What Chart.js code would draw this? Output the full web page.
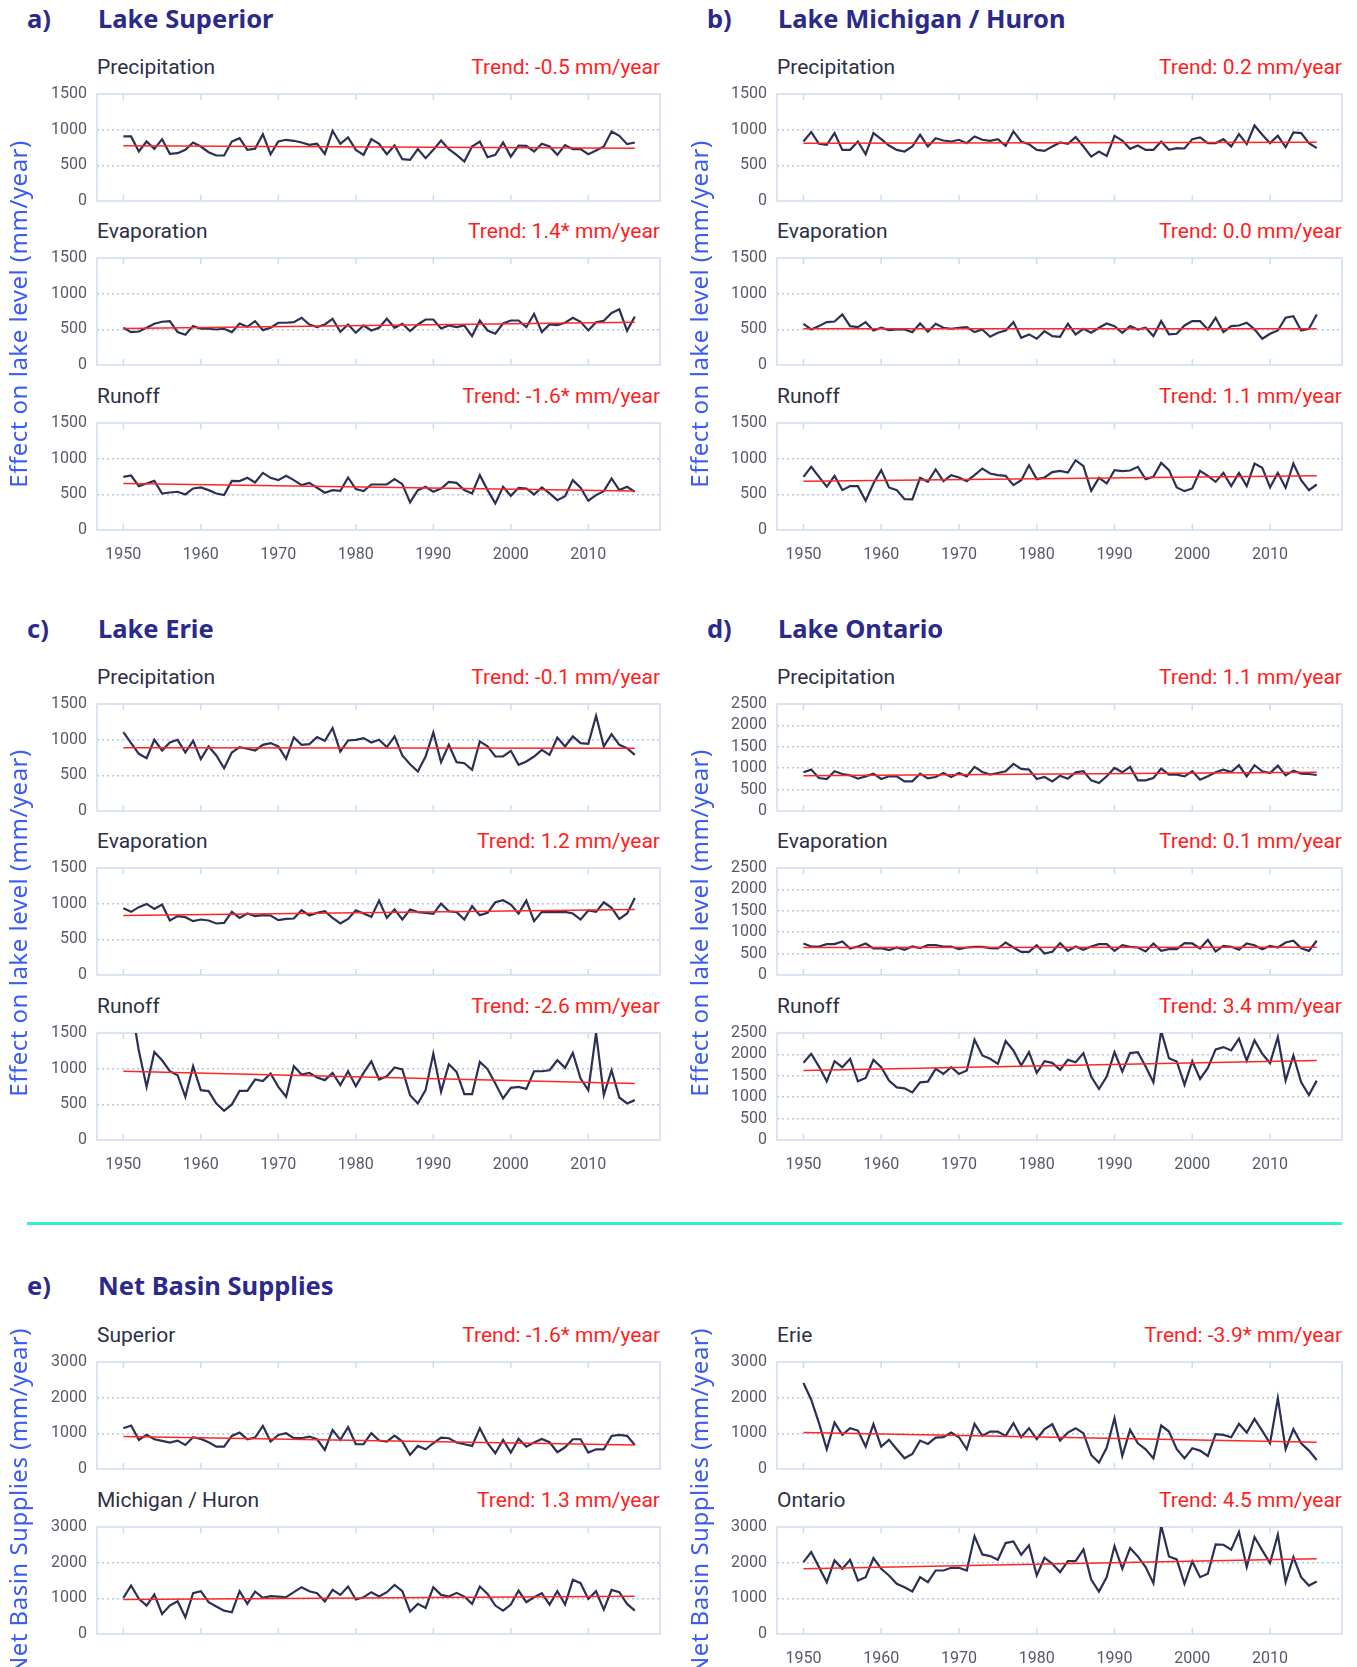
<!DOCTYPE html>
<html>
<head>
<meta charset="utf-8">
<title>Great Lakes water balance components</title>
<script src="https://cdn.jsdelivr.net/npm/chart.js@4.4.0/dist/chart.umd.min.js"></script>
<style>
    body { margin: 0; background: #fff; }
    #page { position: relative; width: 1357px; height: 1667px; overflow: hidden; background: #fff; }
    .title { position: absolute; font-family: "Noto Sans", sans-serif; font-weight: 700; font-size: 25.5px; color: #2b2a8a; line-height: 1; white-space: nowrap; transform: translateY(-50%); }
    .sub { position: absolute; font-family: Roboto, sans-serif; font-size: 21px; color: #2c3046; line-height: 1; white-space: nowrap; transform: translateY(-50%); }
    .trend { position: absolute; font-family: Roboto, sans-serif; font-size: 21px; color: #ff1e1e; line-height: 1; white-space: nowrap; transform: translate(-100%, -50%); }
    .ytitle { position: absolute; width: 420px; height: 26px; font-family: "Noto Sans", sans-serif; font-size: 24px; letter-spacing: 0.5px; color: #3b5cf2; line-height: 26px; white-space: nowrap; transform: rotate(-90deg); }
    .sep { position: absolute; left: 27px; top: 1222px; width: 1315px; height: 3px; background: #33efcf; }
    .panel { position: absolute; }
</style>
</head>
<body>
<div id="page"></div>
<script>
/* ================================
   Data
================================ */
const years = [1950, 1951, 1952, 1953, 1954, 1955, 1956, 1957, 1958, 1959,
    1960, 1961, 1962, 1963, 1964, 1965, 1966, 1967, 1968, 1969,
    1970, 1971, 1972, 1973, 1974, 1975, 1976, 1977, 1978, 1979,
    1980, 1981, 1982, 1983, 1984, 1985, 1986, 1987, 1988, 1989,
    1990, 1991, 1992, 1993, 1994, 1995, 1996, 1997, 1998, 1999,
    2000, 2001, 2002, 2003, 2004, 2005, 2006, 2007, 2008, 2009,
    2010, 2011, 2012, 2013, 2014, 2015, 2016];
const decadeTicks = [1950, 1960, 1970, 1980, 1990, 2000, 2010];
const trendYears = [1950, 2016];

// Lake Superior
const supPrecip = [905, 905, 694, 834, 731, 867, 661, 670, 717, 820, 764, 684, 638, 638, 834, 881, 717, 731, 937, 656, 834, 858, 844, 820, 787, 802, 661, 984, 802, 891, 717, 647, 867, 802, 656, 778, 586, 577, 727, 600, 717, 848, 727, 647, 553, 764, 834, 614, 647, 820, 623, 778, 773, 694, 802, 764, 647, 783, 727, 727, 656, 708, 764, 975, 914, 797, 820];
const supEvap = [522, 461, 470, 522, 578, 606, 615, 461, 424, 545, 508, 508, 498, 508, 461, 582, 536, 615, 489, 522, 592, 592, 601, 662, 568, 531, 568, 648, 466, 568, 452, 554, 484, 522, 648, 522, 578, 475, 568, 638, 638, 512, 554, 531, 554, 405, 624, 484, 438, 582, 624, 624, 531, 717, 461, 568, 559, 592, 662, 606, 484, 600, 620, 730, 780, 480, 680];
const supRunoff = [745, 764, 615, 652, 689, 512, 526, 536, 498, 582, 596, 559, 512, 489, 689, 685, 731, 666, 801, 731, 699, 759, 699, 629, 661, 592, 522, 559, 550, 736, 573, 545, 638, 638, 638, 713, 643, 387, 559, 606, 536, 582, 675, 661, 559, 512, 769, 559, 373, 606, 480, 592, 582, 498, 596, 512, 419, 475, 699, 592, 410, 489, 545, 722, 559, 606, 536];

// Lake Michigan / Huron
const mhPrecip = [834, 966, 802, 787, 952, 717, 717, 834, 656, 952, 867, 778, 717, 694, 764, 928, 764, 881, 848, 834, 858, 811, 905, 858, 844, 867, 773, 975, 834, 797, 717, 703, 764, 820, 802, 895, 764, 623, 694, 633, 914, 848, 731, 778, 717, 717, 834, 717, 741, 736, 867, 891, 811, 811, 867, 764, 937, 797, 1059, 928, 811, 914, 755, 961, 952, 811, 741];
const mhEvap = [578, 498, 545, 601, 610, 708, 545, 531, 601, 484, 522, 489, 498, 498, 461, 582, 466, 578, 522, 508, 522, 531, 461, 498, 396, 452, 484, 601, 382, 429, 368, 475, 405, 396, 578, 429, 508, 452, 522, 582, 545, 452, 545, 498, 522, 405, 615, 429, 438, 554, 615, 615, 498, 662, 461, 545, 554, 592, 500, 368, 438, 484, 662, 685, 484, 508, 708];
const mhRunoff = [745, 885, 745, 606, 759, 559, 615, 615, 410, 652, 839, 596, 559, 433, 429, 731, 675, 848, 685, 769, 736, 685, 769, 862, 792, 769, 759, 629, 699, 908, 713, 736, 811, 829, 806, 978, 894, 550, 731, 652, 839, 825, 834, 885, 713, 745, 941, 839, 596, 545, 582, 829, 759, 675, 801, 615, 801, 615, 932, 871, 596, 801, 592, 932, 699, 559, 638];

// Lake Erie
const eriePrecip = [1106, 952, 802, 741, 998, 848, 961, 998, 820, 984, 727, 905, 778, 600, 820, 895, 872, 848, 928, 952, 905, 731, 1031, 928, 937, 1036, 984, 1163, 834, 989, 998, 1022, 961, 998, 895, 1045, 778, 656, 553, 764, 1102, 684, 928, 684, 670, 577, 975, 905, 764, 764, 844, 647, 694, 764, 858, 787, 1031, 905, 1045, 952, 942, 1336, 905, 1078, 928, 881, 787];
const erieEvap = [936, 885, 951, 997, 927, 988, 764, 825, 811, 755, 778, 764, 722, 731, 885, 801, 862, 825, 839, 834, 769, 787, 792, 908, 834, 871, 894, 801, 722, 787, 908, 862, 815, 1043, 801, 918, 778, 918, 881, 871, 857, 1001, 894, 881, 778, 965, 839, 871, 1020, 1048, 988, 862, 1043, 755, 885, 881, 881, 885, 862, 778, 904, 885, 1020, 941, 787, 862, 1081];
const erieRunoff = [2100, 1900, 1250, 745, 1234, 1118, 964, 908, 606, 1034, 699, 685, 512, 410, 498, 689, 689, 848, 825, 932, 745, 606, 1034, 918, 941, 876, 839, 941, 769, 964, 755, 941, 1104, 848, 894, 1016, 988, 629, 512, 699, 1211, 675, 1062, 955, 643, 643, 1095, 992, 792, 582, 731, 745, 717, 964, 964, 978, 1118, 1011, 1220, 862, 699, 1500, 629, 978, 596, 512, 559];

// Lake Ontario
const ontPrecip = [904, 967, 770, 747, 928, 865, 833, 755, 810, 873, 747, 810, 810, 692, 692, 873, 763, 794, 888, 794, 888, 810, 1030, 912, 849, 888, 928, 1101, 983, 967, 747, 794, 692, 826, 755, 904, 928, 715, 653, 810, 1006, 904, 1030, 715, 715, 770, 991, 849, 849, 810, 928, 731, 810, 904, 967, 912, 1069, 810, 1069, 928, 888, 1061, 833, 943, 873, 865, 841];
const ontEvap = [737, 666, 666, 721, 721, 784, 619, 666, 737, 619, 627, 580, 643, 588, 666, 627, 697, 697, 666, 666, 603, 643, 658, 658, 627, 619, 760, 643, 541, 541, 697, 502, 541, 745, 564, 666, 588, 666, 721, 721, 564, 697, 658, 643, 549, 737, 564, 603, 603, 745, 737, 619, 823, 549, 682, 658, 588, 737, 697, 603, 682, 643, 760, 800, 627, 564, 800];
const ontRunoff = [1803, 2014, 1716, 1371, 1842, 1701, 1897, 1371, 1450, 1873, 1701, 1387, 1230, 1207, 1113, 1348, 1364, 1661, 1544, 1701, 1544, 1622, 2343, 1975, 1897, 1779, 2312, 2092, 1740, 2053, 1567, 1842, 1803, 1638, 1873, 1818, 2030, 1481, 1191, 1481, 2053, 1599, 2030, 2053, 1716, 1348, 2547, 1912, 1834, 1293, 1842, 1426, 1685, 2116, 2171, 2092, 2367, 1857, 2327, 2014, 1795, 2406, 1387, 1975, 1348, 1050, 1387];

// Net basin supplies
const nbsSup = [1144, 1219, 816, 956, 834, 788, 741, 797, 675, 891, 844, 750, 628, 628, 928, 1022, 834, 881, 1209, 769, 956, 1003, 863, 863, 909, 834, 534, 1097, 816, 1172, 694, 694, 1003, 797, 769, 938, 769, 394, 647, 553, 722, 881, 863, 741, 694, 647, 1144, 722, 441, 816, 459, 844, 628, 741, 844, 750, 469, 609, 834, 834, 459, 553, 553, 928, 956, 928, 675];
const nbsMH = [1013, 1359, 984, 797, 1106, 563, 797, 919, 469, 1144, 1200, 891, 769, 656, 609, 1200, 844, 1191, 1013, 1059, 1050, 1031, 1172, 1313, 1200, 1144, 909, 1238, 1097, 1331, 966, 1031, 1172, 1050, 1172, 1378, 1200, 628, 844, 731, 1313, 1097, 1050, 1153, 1050, 844, 1331, 1125, 797, 656, 825, 1219, 891, 1031, 1144, 825, 1200, 825, 1519, 1425, 984, 1200, 684, 1238, 1172, 844, 656];
const nbsErie = [2409, 1941, 1284, 553, 1303, 956, 1144, 1078, 628, 1256, 628, 816, 553, 300, 422, 797, 703, 881, 891, 1022, 891, 553, 1266, 928, 1050, 1050, 928, 1284, 891, 1144, 834, 1116, 1256, 797, 1022, 1144, 1003, 394, 178, 600, 1425, 366, 1097, 722, 553, 300, 1219, 1050, 553, 300, 581, 516, 366, 975, 956, 891, 1266, 1022, 1406, 1069, 722, 1988, 553, 1116, 722, 516, 253];
const nbsOnt = [2016, 2297, 1875, 1453, 2063, 1828, 2081, 1500, 1594, 2128, 1828, 1641, 1406, 1313, 1191, 1594, 1453, 1781, 1781, 1856, 1856, 1781, 2738, 2231, 2184, 2081, 2550, 2597, 2222, 2484, 1641, 2138, 1969, 1734, 2044, 2044, 2372, 1528, 1191, 1594, 2466, 1828, 2409, 2175, 1875, 1425, 3040, 2175, 2091, 1406, 2034, 1594, 1688, 2513, 2503, 2363, 2859, 1875, 2719, 2344, 1988, 2784, 1453, 2156, 1594, 1359, 1472];

// trend line end values (1950, 2016)
const supPrecipTrend = [773, 741];
const supEvapTrend = [512, 601];
const supRunoffTrend = [652, 545];
const mhPrecipTrend = [811, 825];
const mhEvapTrend = [508, 508];
const mhRunoffTrend = [685, 759];
const eriePrecipTrend = [886, 880];
const erieEvapTrend = [834, 918];
const erieRunoffTrend = [964, 792];
const ontPrecipTrend = [826, 904];
const ontEvapTrend = [640, 650];
const ontRunoffTrend = [1622, 1857];
const nbsSupTrend = [909, 675];
const nbsMHTrend = [966, 1059];
const nbsErieTrend = [1022, 750];
const nbsOntTrend = [1828, 2109];

/* ================================
   Page layout
================================ */
const page = document.getElementById("page");
const BOX_H = 107;
const colLeft = { box: 97, width: 563, letter: 27, axisX: 18 };
const colRight = { box: 777, width: 565, letter: 707, axisX: 699 };

function addText(cls, text, left, top) {
    const el = document.createElement("div");
    el.className = cls;
    el.textContent = text;
    el.style.left = left + "px";
    el.style.top = top + "px";
    page.appendChild(el);
    return el;
}

function addAxisTitle(text, cx, cy, align) {
    const el = addText("ytitle", text, cx - 210, cy - 13);
    el.style.textAlign = align || "center";
}

/* ================================
   Chart.js panel
================================ */
const framePlugin = {
    id: "frame",
    beforeDatasetsDraw(chart) {
        const { ctx, chartArea: a, scales: { x } } = chart;
        ctx.save();
        ctx.strokeStyle = "#cfdcee";
        ctx.lineWidth = 1.5;
        ctx.strokeRect(a.left, a.top, a.width, a.height);
        x.ticks.forEach(t => {
            const px = x.getPixelForValue(t.value);
            ctx.beginPath();
            ctx.moveTo(px, a.top);
            ctx.lineTo(px, a.top + 6);
            ctx.moveTo(px, a.bottom - 6);
            ctx.lineTo(px, a.bottom);
            ctx.stroke();
        });
        ctx.restore();
    }
};

// keep the plot box exactly where the page layout wants it
function noLabelPadding(scale) {
    scale.paddingTop = 0;
    scale.paddingBottom = 0;
    scale.paddingLeft = 0;
    scale.paddingRight = 0;
}

function makePanel(col, top, name, trendText, values, trend, yMax, yStep, showX) {
    addText("sub", name, col.box, top - 27);
    addText("trend", trendText, col.box + col.width, top - 27);

    const padL = 80, padT = 10, padR = 12;
    const xH = showX ? 38 : 10;
    const w = col.width + padL + padR;
    const h = BOX_H + padT + xH;

    const wrap = document.createElement("div");
    wrap.className = "panel";
    wrap.style.left = (col.box - padL) + "px";
    wrap.style.top = (top - padT) + "px";
    const canvas = document.createElement("canvas");
    canvas.width = w;
    canvas.height = h;
    canvas.style.width = w + "px";
    canvas.style.height = h + "px";
    wrap.appendChild(canvas);
    page.appendChild(wrap);

    new Chart(canvas, {
        type: "line",
        data: {
            datasets: [{
                data: trendYears.map((yr, i) => ({ x: yr, y: trend[i] })),
                borderColor: "#ff2626",
                borderWidth: 1.5,
                pointRadius: 0
            }, {
                data: years.map((yr, i) => ({ x: yr, y: values[i] })),
                borderColor: "#2a3152",
                borderWidth: 2.2,
                pointRadius: 0,
                tension: 0
            }]
        },
        options: {
            responsive: false,
            animation: false,
            events: [],
            layout: { autoPadding: false, padding: { top: padT, right: padR, left: 0, bottom: 0 } },
            plugins: { legend: { display: false }, tooltip: { enabled: false } },
            scales: {
                x: {
                    type: "linear",
                    min: 1946.6,
                    max: 2019.25,
                    afterBuildTicks: scale => { scale.ticks = decadeTicks.map(v => ({ value: v })); },
                    afterFit: scale => { scale.height = xH; noLabelPadding(scale); },
                    grid: { display: false },
                    border: { display: false },
                    ticks: {
                        display: showX,
                        autoSkip: false,
                        color: "#555a66",
                        font: { family: "Roboto", size: 16 },
                        padding: 7,
                        maxRotation: 0,
                        callback: v => String(v)
                    }
                },
                y: {
                    min: 0,
                    max: yMax,
                    afterFit: scale => { scale.width = padL; noLabelPadding(scale); },
                    grid: {
                        drawTicks: false,
                        lineWidth: 1.5,
                        color: c => (c.tick.value === 0 || c.tick.value === yMax) ? "rgba(0,0,0,0)" : "#b8c9de"
                    },
                    border: { display: false, dash: [2, 3] },
                    ticks: {
                        stepSize: yStep,
                        autoSkip: false,
                        color: "#555a66",
                        font: { family: "Roboto", size: 16 },
                        padding: 10,
                        callback: v => String(v)
                    }
                }
            }
        },
        plugins: [framePlugin]
    });
}

/* ================================
   Build the figure
================================ */
function initFigure() {
    // a) Lake Superior
    addText("title", "a)", colLeft.letter, 19);
    addText("title", "Lake Superior", colLeft.box + 1, 19);
    makePanel(colLeft, 94, "Precipitation", "Trend: -0.5 mm/year", supPrecip, supPrecipTrend, 1500, 500, false);
    makePanel(colLeft, 258, "Evaporation", "Trend: 1.4* mm/year", supEvap, supEvapTrend, 1500, 500, false);
    makePanel(colLeft, 423, "Runoff", "Trend: -1.6* mm/year", supRunoff, supRunoffTrend, 1500, 500, true);
    addAxisTitle("Effect on lake level (mm/year)", colLeft.axisX, 314);

    // b) Lake Michigan / Huron
    addText("title", "b)", colRight.letter, 19);
    addText("title", "Lake Michigan / Huron", colRight.box + 1, 19);
    makePanel(colRight, 94, "Precipitation", "Trend: 0.2 mm/year", mhPrecip, mhPrecipTrend, 1500, 500, false);
    makePanel(colRight, 258, "Evaporation", "Trend: 0.0 mm/year", mhEvap, mhEvapTrend, 1500, 500, false);
    makePanel(colRight, 423, "Runoff", "Trend: 1.1 mm/year", mhRunoff, mhRunoffTrend, 1500, 500, true);
    addAxisTitle("Effect on lake level (mm/year)", colRight.axisX, 314);

    // c) Lake Erie
    addText("title", "c)", colLeft.letter, 629);
    addText("title", "Lake Erie", colLeft.box + 1, 629);
    makePanel(colLeft, 704, "Precipitation", "Trend: -0.1 mm/year", eriePrecip, eriePrecipTrend, 1500, 500, false);
    makePanel(colLeft, 868, "Evaporation", "Trend: 1.2 mm/year", erieEvap, erieEvapTrend, 1500, 500, false);
    makePanel(colLeft, 1033, "Runoff", "Trend: -2.6 mm/year", erieRunoff, erieRunoffTrend, 1500, 500, true);
    addAxisTitle("Effect on lake level (mm/year)", colLeft.axisX, 923);

    // d) Lake Ontario
    addText("title", "d)", colRight.letter, 629);
    addText("title", "Lake Ontario", colRight.box + 1, 629);
    makePanel(colRight, 704, "Precipitation", "Trend: 1.1 mm/year", ontPrecip, ontPrecipTrend, 2500, 500, false);
    makePanel(colRight, 868, "Evaporation", "Trend: 0.1 mm/year", ontEvap, ontEvapTrend, 2500, 500, false);
    makePanel(colRight, 1033, "Runoff", "Trend: 3.4 mm/year", ontRunoff, ontRunoffTrend, 2500, 500, true);
    addAxisTitle("Effect on lake level (mm/year)", colRight.axisX, 923);

    const sep = document.createElement("div");
    sep.className = "sep";
    page.appendChild(sep);

    // e) Net basin supplies
    addText("title", "e)", colLeft.letter, 1286);
    addText("title", "Net Basin Supplies", colLeft.box + 1, 1286);
    makePanel(colLeft, 1362, "Superior", "Trend: -1.6* mm/year", nbsSup, nbsSupTrend, 3000, 1000, false);
    makePanel(colLeft, 1527, "Michigan / Huron", "Trend: 1.3 mm/year", nbsMH, nbsMHTrend, 3000, 1000, false);
    makePanel(colRight, 1362, "Erie", "Trend: -3.9* mm/year", nbsErie, nbsErieTrend, 3000, 1000, false);
    makePanel(colRight, 1527, "Ontario", "Trend: 4.5 mm/year", nbsOnt, nbsOntTrend, 3000, 1000, true);
    addAxisTitle("Net Basin Supplies (mm/year)", colLeft.axisX, 1538, "right");
    addAxisTitle("Net Basin Supplies (mm/year)", colRight.axisX, 1538, "right");
}

document.addEventListener("DOMContentLoaded", initFigure);
</script>
</body>
</html>
